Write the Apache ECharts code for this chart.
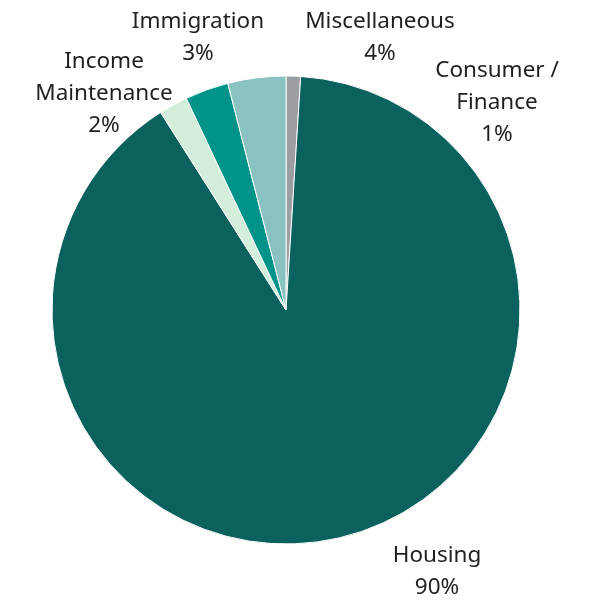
<!DOCTYPE html>
<html><head><meta charset="utf-8">
<script src="https://cdn.jsdelivr.net/npm/echarts@6/dist/echarts.min.js"></script>
<style>html,body{margin:0;padding:0;background:#fff}#c{width:593px;height:600px}</style>
</head><body><div id="c"></div>
<script>
const categories = ['Consumer /\nFinance', 'Housing', 'Income\nMaintenance', 'Immigration', 'Miscellaneous'];
const values = [1, 90, 2, 3, 4];
const colors = ['#9B9EA2', '#0A615E', '#D3EEDB', '#00938A', '#89C2C0'];
// label anchor (centre of text block) positions, px
const labelPos = [[497, 103], [437, 572], [104, 94], [198, 38], [380, 38]];

const chart = echarts.init(document.getElementById('c'));
chart.setOption({
  animation: false,
  series: [{
    type: 'pie',
    center: [286, 310],
    radius: 234,
    startAngle: 90,
    clockwise: true,
    data: categories.map((c, i) => ({ name: c, value: values[i], itemStyle: { color: colors[i] } })),
    itemStyle: { borderColor: '#fff', borderWidth: 1 },
    label: {
      show: true,
      position: 'outside',
      formatter: '{b}\n{d}%',
      fontFamily: 'Noto Sans',
      fontSize: 22.5,
      lineHeight: 32,
      color: '#1f1f1f',
      overflow: 'none',
      width: 300
    },
    labelLine: { show: false },
    labelLayout: function (p) {
      const pos = labelPos[p.dataIndex];
      return { x: pos[0], y: pos[1], align: 'center', verticalAlign: 'middle' };
    }
  }]
});
</script></body></html>
